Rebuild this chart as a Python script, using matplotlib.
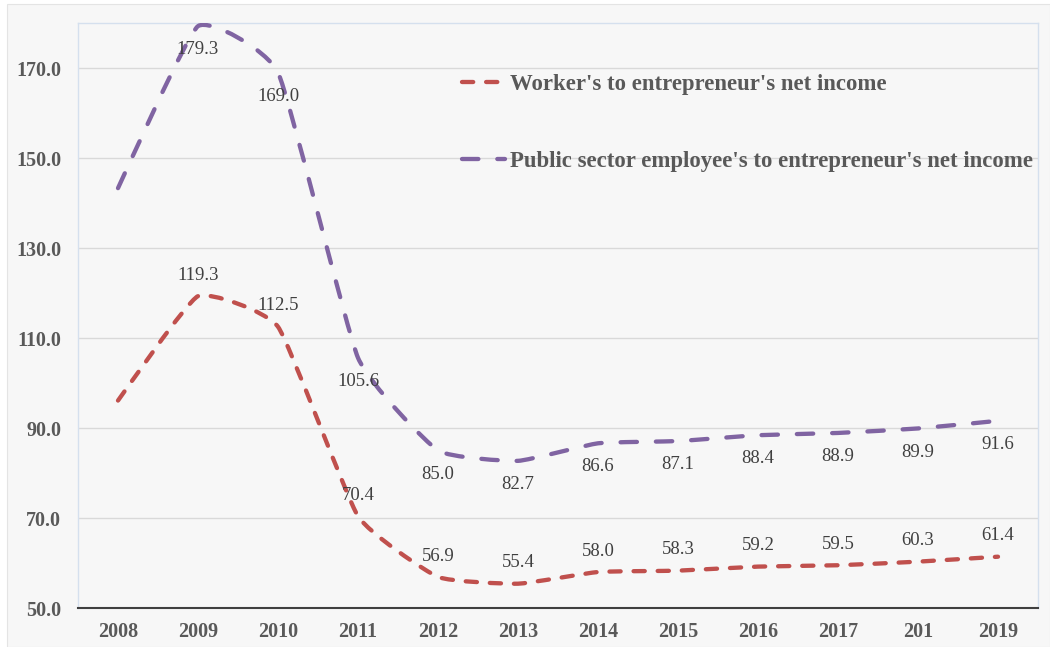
import matplotlib
matplotlib.use("Agg")
import matplotlib.pyplot as plt
from matplotlib.path import Path
from matplotlib.patches import PathPatch, Rectangle
from matplotlib.lines import Line2D
import numpy as np

years = ["2008", "2009", "2010", "2011", "2012", "2013", "2014", "2015",
         "2016", "2017", "201", "2019"]
worker = [96.1, 119.3, 112.5, 70.4, 56.9, 55.4, 58.0, 58.3, 59.2, 59.5, 60.3, 61.4]
public = [143.3, 179.3, 169.0, 105.6, 85.0, 82.7, 86.6, 87.1, 88.4, 88.9, 89.9, 91.6]
worker_labels = [None, "119.3", "112.5", "70.4", "56.9", "55.4", "58.0", "58.3",
                 "59.2", "59.5", "60.3", "61.4"]
public_labels = [None, "179.3", "169.0", "105.6", "85.0", "82.7", "86.6", "87.1",
                 "88.4", "88.9", "89.9", "91.6"]
legend_names = ["Worker's to entrepreneur's net income",
                "Public sector employee's to entrepreneur's net income"]
yticks = [50, 70, 90, 110, 130, 150, 170]

RED = "#C0504D"
PURPLE = "#8064A2"
TXT = "#404040"
SERIF = ["Liberation Serif", "DejaVu Serif"]

plt.rcParams["font.family"] = SERIF

TENSION = 0.07  # gentle rounding of the line corners


def smooth_path(xs, ys):
    xs = np.asarray(xs, float)
    ys = np.asarray(ys, float)
    n = len(xs)
    verts = [(xs[0], ys[0])]
    codes = [Path.MOVETO]
    for i in range(n - 1):
        p0 = np.array([xs[max(i - 1, 0)], ys[max(i - 1, 0)]])
        p1 = np.array([xs[i], ys[i]])
        p2 = np.array([xs[i + 1], ys[i + 1]])
        p3 = np.array([xs[min(i + 2, n - 1)], ys[min(i + 2, n - 1)]])
        c1 = p1 + (p2 - p0) * TENSION
        c2 = p2 - (p3 - p1) * TENSION
        verts += [tuple(c1), tuple(c2), tuple(p2)]
        codes += [Path.CURVE4] * 3
    return Path(verts, codes)


fig = plt.figure(figsize=(10.5, 6.47), dpi=100, facecolor="white")
fig.patches.append(Rectangle((7 / 1050, 0), 1 - 7 / 1050, 1 - 4 / 647,
                             transform=fig.transFigure, facecolor="#F7F7F7",
                             edgecolor="#E4E4E4", linewidth=0.8, zorder=-10))

ax = fig.add_axes([78 / 1050, 1 - 608 / 647, (1038 - 78) / 1050, (608 - 23) / 647])
ax.set_facecolor("#F7F7F7")
x = np.arange(len(years))

ax.add_patch(PathPatch(smooth_path(x, worker), facecolor="none", edgecolor=RED,
                       linewidth=3.1, linestyle=(0, (2.6, 3.0)), capstyle="round",
                       joinstyle="round", zorder=3))
ax.add_patch(PathPatch(smooth_path(x, public), facecolor="none", edgecolor=PURPLE,
                       linewidth=3.1, linestyle=(0, (3.8, 4.4)), capstyle="round",
                       joinstyle="round", zorder=3))

for xi, yi, lab in zip(x, worker, worker_labels):
    if lab:
        ax.annotate(lab, (xi, yi), xytext=(0, 15), textcoords="offset points",
                    ha="center", va="center", fontsize=13.5, color=TXT, zorder=4)
for xi, yi, lab in zip(x, public, public_labels):
    if lab:
        ax.annotate(lab, (xi, yi), xytext=(0, -17), textcoords="offset points",
                    ha="center", va="center", fontsize=13.5, color=TXT, zorder=4)

ax.set_xlim(-0.5, len(years) - 0.5)
ax.set_ylim(50, 180)
ax.set_yticks(yticks)
ax.set_yticklabels([f"{v:.1f}" for v in yticks], fontweight="bold", fontsize=14.5,
                   color="#595959")
ax.set_xticks(x)
ax.set_xticklabels(years, fontweight="bold", fontsize=14.5, color="#595959")
ax.tick_params(axis="both", length=0)
ax.tick_params(axis="y", pad=12)
ax.tick_params(axis="x", pad=10)
ax.grid(axis="y", color="#D9D9D9", linewidth=1.0, zorder=0)
ax.set_axisbelow(True)
for s in ["left", "top", "right"]:
    ax.spines[s].set_color("#D5E0EE")
    ax.spines[s].set_linewidth(1.0)
ax.spines["bottom"].set_color("#404040")
ax.spines["bottom"].set_linewidth(1.5)

handles = [Line2D([], [], color=RED, linewidth=3.1, linestyle=(0, (2.6, 3.0)),
                  dash_capstyle="round"),
           Line2D([], [], color=PURPLE, linewidth=3.1, linestyle=(0, (3.8, 4.4)),
                  dash_capstyle="round")]
leg = fig.legend(handles, legend_names, loc="upper left",
                 bbox_to_anchor=(462 / 1050, 1 - 74 / 647),
                 frameon=False, borderpad=0, borderaxespad=0,
                 handlelength=1.9, handletextpad=0.2, labelspacing=2.45,
                 prop={"family": SERIF, "weight": "bold", "size": 16.4})
for t in leg.get_texts():
    t.set_color("#595959")

fig.savefig("out.png", dpi=100, facecolor=fig.get_facecolor())
